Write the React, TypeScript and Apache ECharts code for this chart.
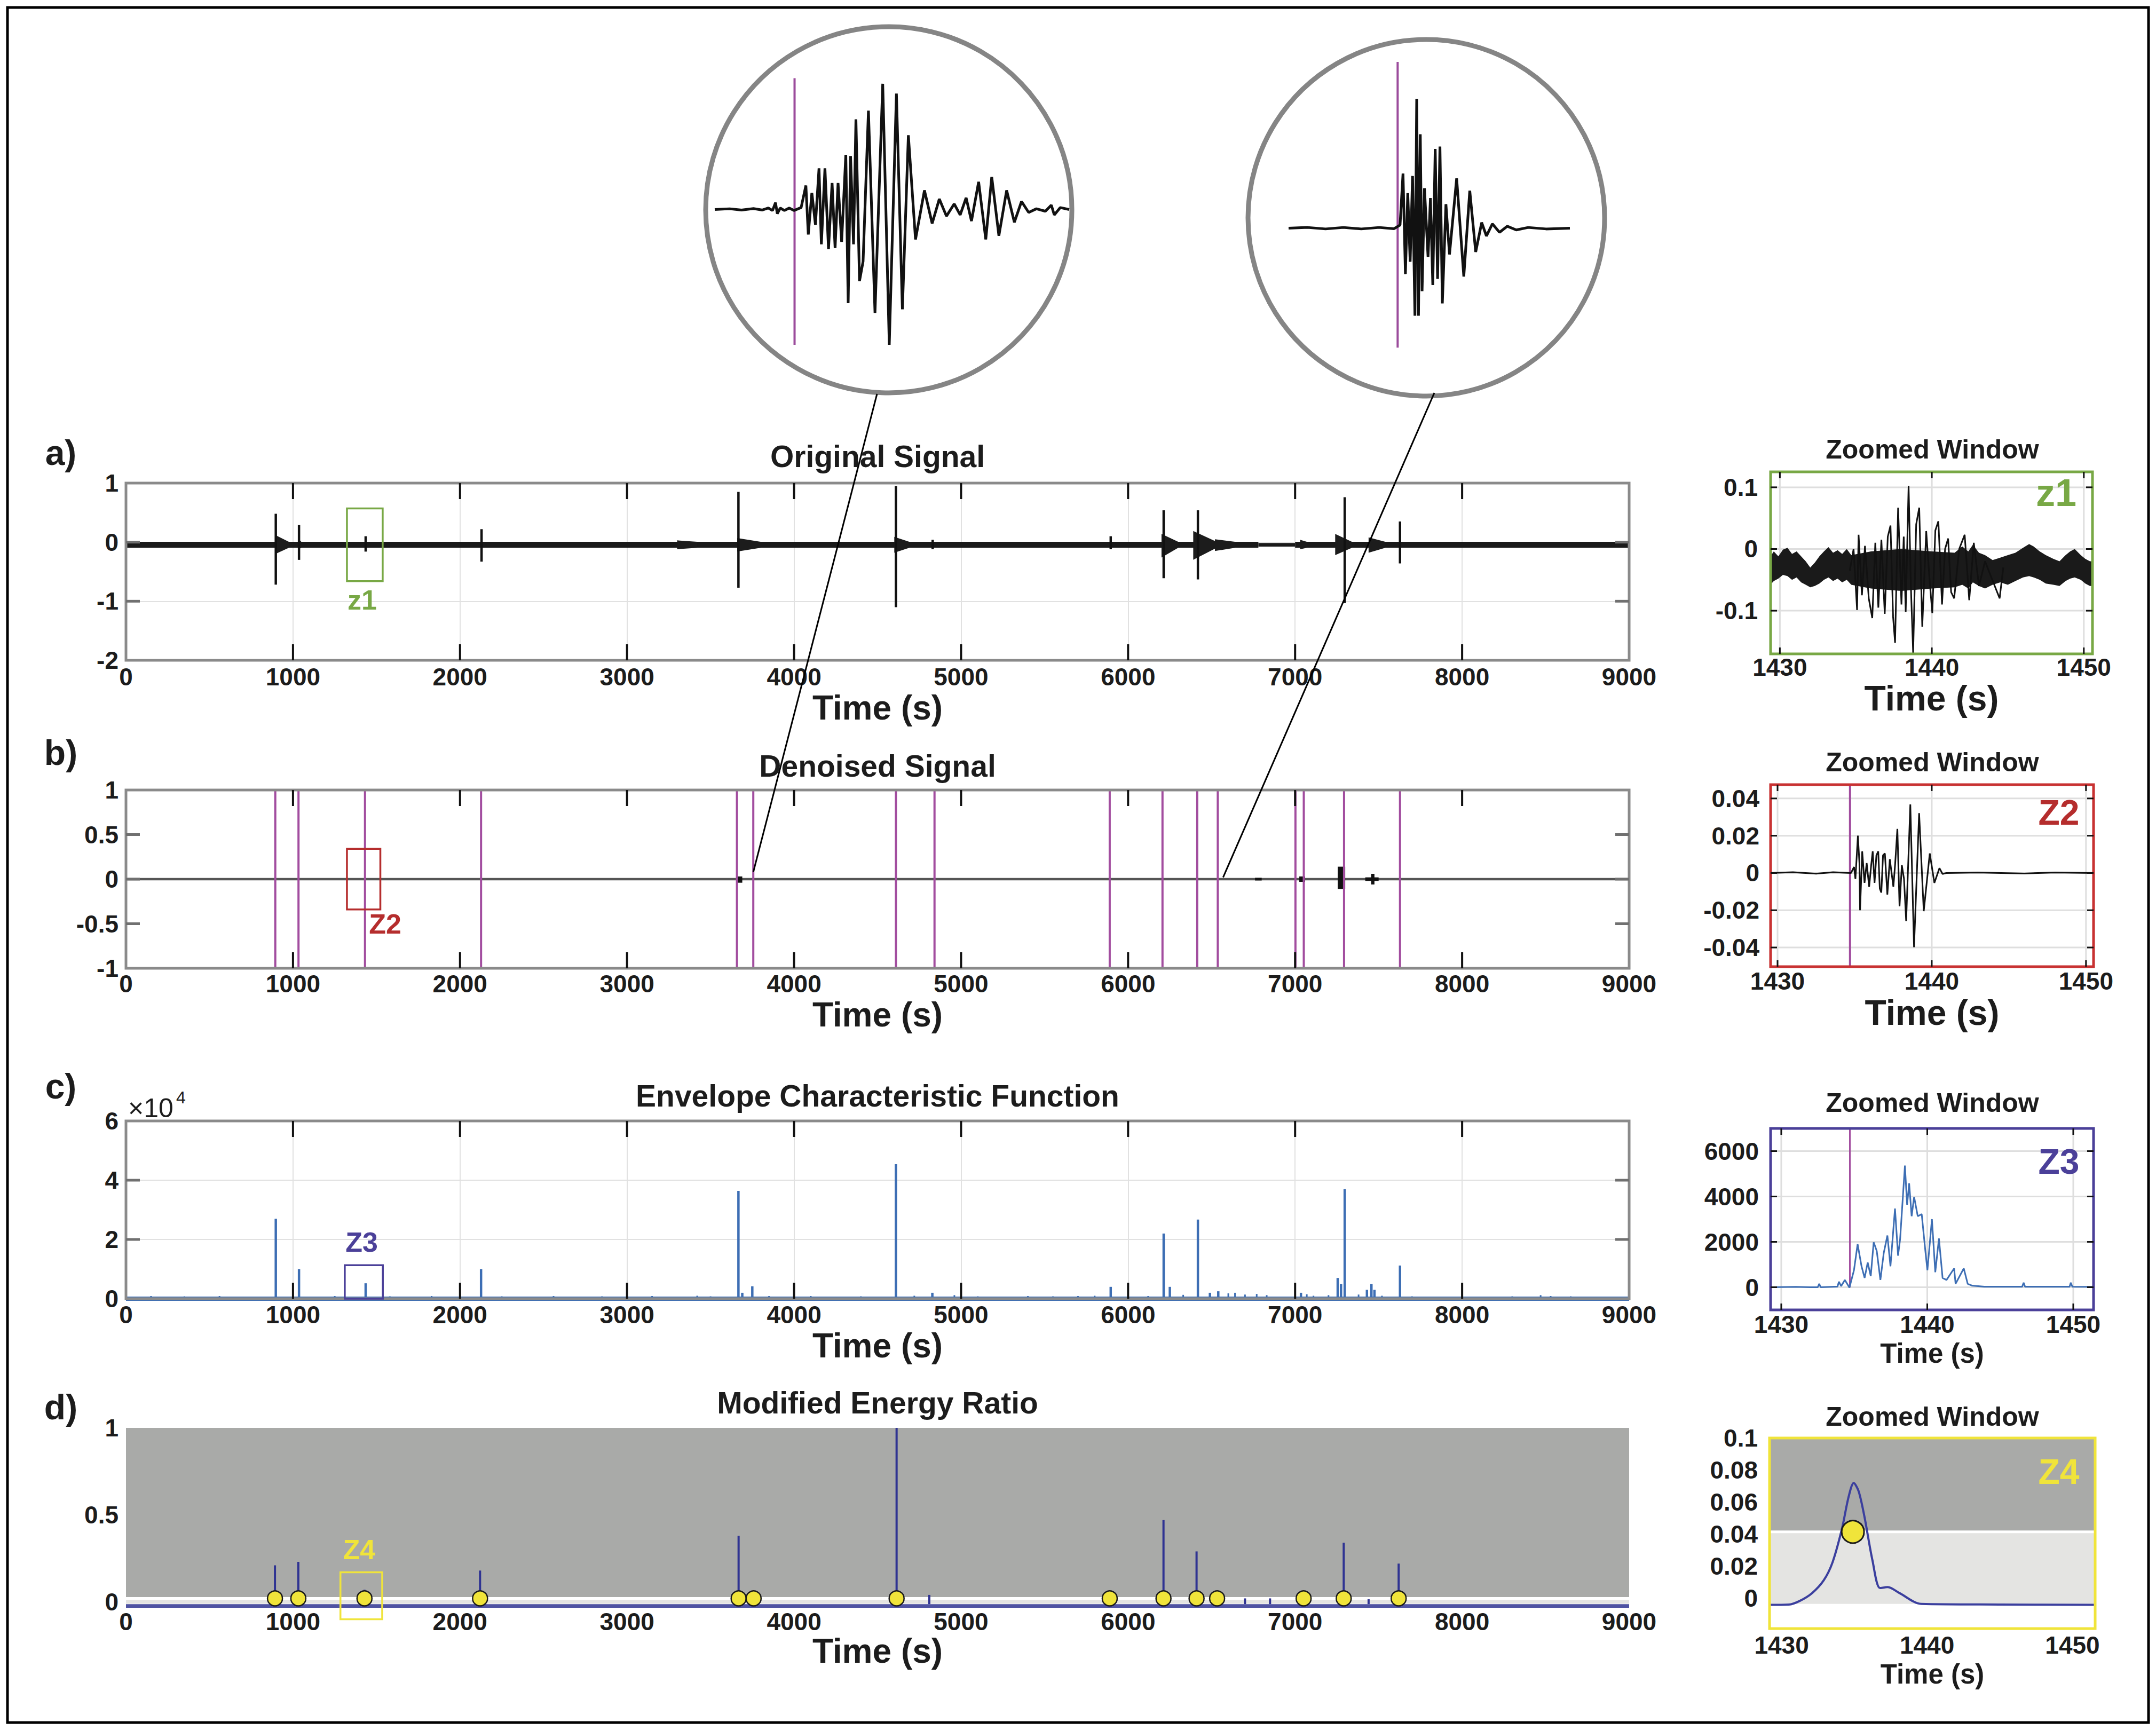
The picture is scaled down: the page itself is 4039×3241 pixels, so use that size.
import React, { useEffect, useRef } from "react";
import * as echarts from "echarts";

const FONT = '"Liberation Sans", Arial, Helvetica, sans-serif';
const INK = "#1c1c1c";

// ---------- shared time axis of the main panels ----------
const TIME_MIN = 0;
const TIME_MAX = 9000;
const TIME_STEP = 1000;
const innerTimeTicks = [1000, 2000, 3000, 4000, 5000, 6000, 7000, 8000];

// ---------- a) Original Signal ----------
const origYTicksInner = [-1, 0];
// noise band segments [t0, t1, low, high]
const origBand = [
  [0, 6780, -0.095, 0.005],
  [6780, 7000, -0.075, -0.015],
  [7000, 9000, -0.095, 0.005],
];
// event codas, decaying from t0 to t1: [t0, t1, low, high]
const origCoda = [
  [895, 975, -0.2, 0.12],
  [1030, 1050, -0.12, 0.06],
  [3300, 3420, -0.12, 0.03],
  [3660, 3800, -0.16, 0.07],
  [4600, 4690, -0.18, 0.09],
  [6200, 6300, -0.26, 0.14],
  [6390, 6530, -0.3, 0.19],
  [6520, 6640, -0.15, 0.05],
  [7030, 7070, -0.12, 0.04],
  [7240, 7340, -0.22, 0.14],
  [7440, 7540, -0.18, 0.08],
];
// spikes [t, low, high]
const origSpikes = [
  [897, -0.72, 0.48],
  [1036, -0.3, 0.29],
  [1435, -0.16, 0.1],
  [2129, -0.33, 0.22],
  [3667, -0.77, 0.85],
  [4610, -1.1, 0.95],
  [4830, -0.12, 0.04],
  [5896, -0.12, 0.1],
  [6213, -0.61, 0.54],
  [6418, -0.63, 0.54],
  [7297, -1.03, 0.76],
  [7628, -0.36, 0.35],
];
const z1Box = [1323, 1537, -0.66, 0.57];

// ---------- b) Denoised Signal ----------
const denYTicksInner = [-0.5, 0, 0.5];
const denBand = [[0, 9000, -0.013, 0.013]];
const denBlobs = [
  [3655, 3690, -0.04, 0.03],
  [6760, 6800, -0.015, 0.015],
  [7025, 7060, -0.03, 0.03],
  [7255, 7300, -0.11, 0.14],
  [7420, 7500, -0.02, 0.02],
  [7455, 7475, -0.06, 0.06],
];
const pickTimes = [894, 1033, 1431, 2126, 3658, 3756, 4610, 4841, 5890, 6206, 6414, 6537, 7002, 7052, 7293, 7628];
const z2Box = [1323, 1523, -0.34, 0.34];

// ---------- c) Envelope Characteristic Function ----------
const envYTicksInner = [20000, 40000];
const envBand = [[0, 9000, -700, 700]];
const envSpikes = [
  [897, 27000], [1036, 10000], [1435, 5200], [2126, 10000],
  [3667, 36400], [3690, 2000], [3750, 4200],
  [4610, 45400], [4828, 2000], [5896, 4000],
  [6213, 22000], [6250, 4000], [6418, 26700], [6490, 2000], [6540, 2500],
  [7035, 2000], [7255, 7000], [7275, 5000], [7297, 37000],
  [7430, 3000], [7457, 5000], [7475, 3000], [7628, 11200],
];
const envNoise = [
  [60, 700], [150, 900], [230, 600], [350, 800], [430, 700], [560, 900], [700, 700], [800, 600],
  [1150, 700], [1250, 900], [1350, 600], [1580, 800], [1700, 700], [1830, 900], [1950, 600],
  [2250, 800], [2400, 700], [2560, 900], [2700, 600], [2850, 800], [2980, 700],
  [3150, 900], [3300, 700], [3420, 1000], [3500, 800], [3850, 900], [3980, 700],
  [4100, 900], [4250, 700], [4400, 800], [4520, 700], [4720, 1000], [4960, 1200],
  [5100, 800], [5250, 700], [5400, 900], [5550, 800], [5700, 900], [5800, 1000],
  [6120, 900], [6330, 1300], [6600, 1800], [6640, 2000], [6700, 1400], [6770, 1600], [6830, 1200],
  [7070, 1500], [7110, 1000], [7200, 1200], [7380, 1400], [7520, 1000],
  [7700, 800], [7850, 700], [8000, 600], [8150, 700], [8300, 800], [8470, 1200], [8530, 900],
  [8650, 800], [8800, 700], [8950, 600],
];
const z3Box = [1310, 1538, 0, 11300];

// ---------- d) Modified Energy Ratio ----------
const merThreshold = 0.02;
const merLightLow = -0.011;
const merBaseline = [[0, 9000, -0.034, -0.013]];
const merSpikes = [
  [892, 0.21], [1032, 0.23], [1428, 0.07], [2120, 0.18], [3668, 0.38], [3758, 0.05],
  [4614, 1.0], [4810, 0.04], [5890, 0.04], [6212, 0.47], [6410, 0.29], [6533, 0.05],
  [6700, 0.02], [6850, 0.02], [7051, 0.05], [7291, 0.34], [7440, 0.015], [7620, 0.22],
];
const merPicks = [892, 1032, 1428, 2120, 3668, 3758, 4614, 5890, 6212, 6410, 6533, 7051, 7291, 7620];
const z4Box = [1284, 1534, -0.1, 0.17];

// ---------- zoomed windows ----------
const zoomXTicks = [1430, 1440, 1450];
const z1YTicks = [-0.1, 0, 0.1];
const z2YTicks = [-0.04, -0.02, 0, 0.02, 0.04];
const z3YTicks = [0, 2000, 4000, 6000];
const z4YTicks = [0, 0.02, 0.04, 0.06, 0.08, 0.1];
const zoomPick = 1434.7;

const z1Upper = [
  [1429.3, -0.015], [1429.6, -0.004], [1429.9, -0.012], [1430.2, -0.001], [1430.5, 0.002], [1430.8, -0.008],
  [1431.1, -0.004], [1431.4, -0.012], [1431.7, -0.02], [1432.0, -0.03], [1432.3, -0.022], [1432.6, -0.012],
  [1432.9, -0.004], [1433.2, 0.003], [1433.5, -0.006], [1433.8, -0.002], [1434.1, -0.008], [1434.4, 0.0],
  [1434.7, -0.01], [1436.0, -0.004], [1438.0, 0.0], [1440.0, -0.004], [1441.5, -0.006], [1442.0, 0.004],
  [1442.4, -0.004], [1442.7, 0.007], [1443.1, -0.006], [1443.5, -0.01], [1444.0, -0.018], [1444.5, -0.014],
  [1445.0, -0.01], [1445.5, -0.006], [1446.0, 0.002], [1446.4, 0.008], [1446.7, 0.004], [1447.1, -0.004],
  [1447.5, -0.01], [1448.0, -0.016], [1448.4, -0.02], [1448.8, -0.01], [1449.1, -0.004], [1449.4, 0.0],
  [1449.8, -0.01], [1450.1, -0.016], [1450.4, -0.02], [1450.6, -0.02],
];
const z1Lower = [
  [1429.3, -0.06], [1429.6, -0.052], [1429.9, -0.048], [1430.2, -0.042], [1430.5, -0.044], [1430.8, -0.05],
  [1431.1, -0.046], [1431.4, -0.054], [1431.7, -0.058], [1432.0, -0.062], [1432.3, -0.06], [1432.6, -0.056],
  [1432.9, -0.05], [1433.2, -0.046], [1433.5, -0.052], [1433.8, -0.048], [1434.1, -0.054], [1434.4, -0.05],
  [1434.7, -0.058], [1436.0, -0.064], [1438.0, -0.068], [1440.0, -0.064], [1441.5, -0.062], [1442.0, -0.058],
  [1442.4, -0.064], [1442.7, -0.054], [1443.1, -0.06], [1443.5, -0.064], [1444.0, -0.058], [1444.5, -0.054],
  [1445.0, -0.058], [1445.5, -0.052], [1446.0, -0.046], [1446.4, -0.044], [1446.7, -0.046], [1447.1, -0.05],
  [1447.5, -0.056], [1448.0, -0.058], [1448.4, -0.06], [1448.8, -0.052], [1449.1, -0.048], [1449.4, -0.046],
  [1449.8, -0.05], [1450.1, -0.056], [1450.4, -0.06], [1450.6, -0.06],
];
const z1Wave = [
  [1434.6, -0.035], [1434.85, 0.0], [1435.08, -0.099], [1435.18, 0.023], [1435.4, -0.075], [1435.6, 0.005],
  [1435.85, -0.08], [1436.08, -0.112], [1436.28, 0.01], [1436.48, -0.095], [1436.68, 0.015], [1436.9, -0.105],
  [1437.1, 0.02], [1437.28, 0.038], [1437.45, -0.11], [1437.58, -0.152], [1437.78, 0.067], [1438.0, -0.09],
  [1438.15, 0.02], [1438.28, -0.102], [1438.47, 0.1025], [1438.62, -0.06], [1438.77, -0.169], [1438.97, 0.04],
  [1439.17, 0.067], [1439.37, -0.126], [1439.63, 0.029], [1439.85, -0.05], [1440.03, -0.104], [1440.23, 0.03],
  [1440.43, 0.045], [1440.67, -0.09], [1440.87, 0.0], [1441.07, 0.017], [1441.27, -0.07], [1441.47, -0.08],
  [1441.8, 0.0], [1442.16, 0.023], [1442.46, -0.083], [1442.76, 0.01], [1443.1, -0.06], [1443.5, -0.02],
  [1444.46, -0.08], [1444.7, -0.03],
];
const z2Wave = [
  [1429.5, 0], [1431.0, 0.0004], [1432.5, -0.0004], [1433.6, 0.0004], [1434.76, 0], [1434.96, 0.0032],
  [1435.05, -0.0032], [1435.21, 0.02], [1435.31, 0.0053], [1435.35, -0.02], [1435.49, 0.0116], [1435.64, -0.0053],
  [1435.78, 0.0053], [1435.94, -0.0074], [1436.06, 0.0032], [1436.17, 0.0116], [1436.29, -0.0053], [1436.41, 0.0095],
  [1436.53, 0.0116], [1436.63, -0.0084], [1436.73, -0.0105], [1436.84, 0.0095], [1436.96, 0.0105], [1437.12, -0.0116],
  [1437.28, 0.0074], [1437.51, -0.0074], [1437.63, 0.0053], [1437.77, 0.0237], [1437.91, -0.0179], [1438.06, 0.0042],
  [1438.2, -0.0032], [1438.34, -0.0258], [1438.61, 0.0368], [1438.85, -0.0398], [1439.18, 0.0321], [1439.48, -0.0205],
  [1439.87, 0.0105], [1440.17, -0.0053], [1440.5, 0.0026], [1440.7, -0.0005], [1440.95, 0], [1443.0, 0.0003],
  [1446.0, -0.0003], [1448.0, 0.0003], [1450.5, 0],
];
const z3Env = [
  [1429.27, 0], [1431.0, 20], [1432.0, 0], [1432.5, 0], [1432.6, 150], [1432.7, 0], [1433.85, 30], [1433.95, 240],
  [1434.1, 50], [1434.36, 320], [1434.67, -20], [1434.98, 750], [1435.23, 1900], [1435.5, 920], [1435.71, 410],
  [1435.92, 1090], [1436.13, 490], [1436.33, 1980], [1436.54, 1600], [1436.79, 320], [1437.02, 1510], [1437.27, 2280],
  [1437.48, 920], [1437.79, 3470], [1438.0, 1390], [1438.14, 2110], [1438.47, 5360], [1438.62, 3640], [1438.76, 4580],
  [1438.93, 3130], [1439.1, 3980], [1439.35, 3130], [1439.62, 3220], [1439.87, 1600], [1440.01, 750], [1440.32, 3000],
  [1440.55, 660], [1440.8, 2150], [1441.05, 410], [1441.32, 320], [1441.84, 830], [1441.94, 150], [1442.5, 830],
  [1442.77, 150], [1443.08, 70], [1443.91, 25], [1446.5, 25], [1446.6, 200], [1446.7, 25], [1449.75, 25],
  [1449.83, 200], [1449.94, 25], [1451.39, 20],
];
const z4Threshold = 0.0414;
const z4LightLow = -0.0036;
const z4Curve = [
  [1429.17, -0.0042], [1430.5, -0.004], [1431.25, -0.0017], [1432.1, 0.0032], [1432.9, 0.0112], [1433.5, 0.0223],
  [1434.15, 0.0433], [1434.6, 0.063], [1434.96, 0.0719], [1435.3, 0.0667], [1435.7, 0.0507], [1436.25, 0.0235],
  [1436.77, 0.0063], [1437.3, 0.0069], [1438.1, 0.0032], [1439.6, -0.0036], [1445.0, -0.004], [1451.56, -0.0042],
];
const z4Pick = [1434.9, 0.0414];

// ---------- circular insets (relative seconds, relative amplitude) ----------
const insetLeftWave = [
  [0, 0], [4.17, 0.03], [7.5, -0.02], [10.83, 0.04], [13.33, -0.02], [15, 0.06], [16.17, -0.04], [17, 0.28],
  [17.5, -0.17], [18.33, 0.06], [19.5, -0.04], [20.83, 0.06], [22.17, -0.04], [23.5, 0.04], [24.17, 0.08],
  [25.5, 0.98], [26.17, -1.02], [27.17, 0.68], [28.17, -0.62], [29.17, 1.68], [29.83, -1.42], [30.83, 1.68],
  [31.83, -1.62], [32.83, 1.08], [33.67, -1.57], [34.5, 1.08], [35.5, -1.32], [36.67, 2.23], [37.33, -3.82],
  [38, 2.18], [38.83, -1.42], [39.5, 3.68], [40.5, -2.92], [41.5, -2.12], [43, 4.03], [44.83, -4.22], [47, 5.13],
  [48.83, -5.52], [50.83, 4.73], [52.5, -4.07], [54.17, 3.03], [56.17, -1.22], [58.67, 0.78], [60.83, -0.57],
  [62.83, 0.43], [64.83, -0.27], [67, 0.23], [68.67, -0.22], [70.33, 0.48], [71.83, -0.47], [73.83, 1.13],
  [75.83, -1.22], [77.5, 1.33], [79.5, -1.07], [81.67, 0.78], [83.83, -0.52], [85.83, 0.33], [87.83, -0.12],
  [90, 0.03], [92.5, -0.07], [94.17, 0.18], [95, -0.22], [96.67, 0.08], [99.17, 0],
];
const insetLeftPick = [22.33, -5.52, 5.36];
const insetRightWave = [
  [0, 0], [5.33, 0.03], [10.33, -0.03], [15.33, 0.03], [20.33, -0.03], [25.33, 0.03], [29.5, -0.02], [31.17, 0.13],
  [32, 2.23], [32.67, -1.87], [33.33, 1.43], [34, -1.37], [34.67, 2.13], [35.33, -3.57], [35.83, 5.28], [36.33, -3.57],
  [36.83, 3.83], [37.33, -2.57], [38, 1.63], [39, -1.17], [39.67, 1.23], [40.33, -2.32], [41, 3.23], [41.67, -2.07],
  [42.33, 3.33], [43, -3.07], [44, 0.98], [45, -1.07], [47, 2.03], [49, -1.97], [50.67, 1.53], [52.33, -0.97],
  [54, 0.23], [55.33, -0.32], [57, 0.18], [59, -0.17], [61.17, 0.08], [63.67, -0.07], [67, 0.03], [72, -0.03],
  [78.67, 0],
];
const insetRightPick = [30.5, -4.87, 6.78];
// points of panel b that the connector lines point at
const connectorTargets = [[3756, 0.08], [6569, 0.02]];

// ---------- layout (pixels) ----------
const connectorStarts = [[1643, 738], [2687, 736]];
const GRIDS = [
  { left: 236, top: 905, width: 2816, height: 332 },
  { left: 236, top: 1480, width: 2816, height: 334 },
  { left: 236, top: 2100, width: 2816, height: 333 },
  { left: 236, top: 2675, width: 2816, height: 339 },
  { left: 3317, top: 884, width: 603, height: 341 },
  { left: 3317, top: 1470, width: 605, height: 341 },
  { left: 3317, top: 2114, width: 605, height: 340 },
  { left: 3315, top: 2694, width: 610, height: 357 },
  { left: 1339, top: 117, width: 664, height: 551 },
  { left: 2414, top: 106, width: 527, height: 643 },
];
const MAIN_TICK_PX = 30;
const MAIN_YTICK_PX = 26;
const ZOOM_TICK_PX = 12;

const C_PURPLE = "#a24d9f";
const C_BLUE = "#3d6eb4";
const C_NAVY = "#2f3392";
const C_GREEN = "#78a845";
const C_RED = "#b52d2d";
const C_VIOLET = "#4b4099";
const C_YELLOW = "#f0e43a";
const C_DARKGRAY = "#a9aaa8";
const C_LIGHTGRAY = "#e4e4e2";

const plain = (v: number) => String(v);
const tickFont = { fontFamily: FONT, fontWeight: "bold", fontSize: 46, color: INK };
const nameFont = (s: number) => ({ fontFamily: FONT, fontWeight: "bold", fontSize: s, color: INK });

function rectSeries(ax: number, data: number[][], color: string, extra: any = {}) {
  return {
    type: "custom", xAxisIndex: ax, yAxisIndex: ax, silent: true, data,
    encode: { x: [0, 1], y: [2, 3] },
    renderItem: (_p: any, api: any) => {
      const a = api.coord([api.value(0), api.value(3)]);
      const b = api.coord([api.value(1), api.value(2)]);
      return {
        type: "rect",
        shape: { x: a[0], y: a[1], width: Math.max(b[0] - a[0], 2), height: Math.max(b[1] - a[1], 1) },
        style: { fill: color },
      };
    },
    ...extra,
  };
}

// decaying coda: full amplitude at t0, shrinking to the noise band at t1
function codaSeries(ax: number, data: number[][], bandLo: number, bandHi: number, color: string) {
  return {
    type: "custom", xAxisIndex: ax, yAxisIndex: ax, silent: true, data,
    encode: { x: [0, 1], y: [2, 3] },
    renderItem: (_p: any, api: any) => {
      const t0 = api.value(0), t1 = api.value(1), lo = api.value(2), hi = api.value(3);
      const pts = [api.coord([t0, hi]), api.coord([t1, bandHi]), api.coord([t1, bandLo]), api.coord([t0, lo])];
      return { type: "polygon", shape: { points: pts }, style: { fill: color } };
    },
  };
}

function spikeSeries(ax: number, data: number[][], color: string, width: number, extra: any = {}) {
  return {
    type: "custom", xAxisIndex: ax, yAxisIndex: ax, silent: true, data,
    encode: { x: 0, y: [1, 2] },
    renderItem: (_p: any, api: any) => {
      const a = api.coord([api.value(0), api.value(1)]);
      const b = api.coord([api.value(0), api.value(2)]);
      return { type: "line", shape: { x1: a[0], y1: a[1], x2: b[0], y2: b[1] }, style: { stroke: color, lineWidth: width } };
    },
    ...extra,
  };
}

// horizontal segments: data [x0, x1, y]
function hSegSeries(ax: number, data: number[][], color: string, width: number, extra: any = {}) {
  return {
    type: "custom", xAxisIndex: ax, yAxisIndex: ax, silent: true, data,
    encode: { x: [0, 1], y: 2 },
    renderItem: (_p: any, api: any) => {
      const a = api.coord([api.value(0), api.value(2)]);
      const b = api.coord([api.value(1), api.value(2)]);
      return { type: "line", shape: { x1: a[0], y1: a[1], x2: b[0], y2: b[1] }, style: { stroke: color, lineWidth: width } };
    },
    ...extra,
  };
}

// inward tick marks on the top/bottom edges (vertical) at x values; length given in pixels, converted via grid size
function xTickSeries(ax: number, values: number[], yMin: number, yMax: number, px: number, color: string, width: number) {
  const d = (px / GRIDS[ax].height) * (yMax - yMin);
  const data: number[][] = [];
  values.forEach((v) => {
    data.push([v, yMin, yMin + d]);
    data.push([v, yMax - d, yMax]);
  });
  return spikeSeries(ax, data, color, width, { z: 7 });
}
// inward tick marks on the left/right edges (horizontal) at y values
function yTickSeries(ax: number, values: number[], xMin: number, xMax: number, px: number, color: string, width: number) {
  const d = (px / GRIDS[ax].width) * (xMax - xMin);
  const data: number[][] = [];
  values.forEach((v) => {
    data.push([xMin, xMin + d, v]);
    data.push([xMax - d, xMax, v]);
  });
  return hSegSeries(ax, data, color, width, { z: 7 });
}

function boxSeries(ax: number, box: number[], color: string, text: string, place: string) {
  return {
    type: "custom", xAxisIndex: ax, yAxisIndex: ax, silent: true, clip: false, z: 8,
    data: [box], encode: { x: [0, 1], y: [2, 3] },
    renderItem: (_p: any, api: any) => {
      const a = api.coord([api.value(0), api.value(3)]);
      const b = api.coord([api.value(1), api.value(2)]);
      let tx = (a[0] + b[0]) / 2 - 5;
      let ty = b[1] + 35;
      if (place === "belowRight") { tx = b[0] + 9; ty = b[1] + 27; }
      if (place === "above") { tx = (a[0] + b[0]) / 2 - 4; ty = a[1] - 43; }
      return {
        type: "group",
        children: [
          { type: "rect", shape: { x: a[0], y: a[1], width: b[0] - a[0], height: b[1] - a[1] }, style: { fill: "none", stroke: color, lineWidth: 3.5 } },
          {
            type: "text", x: tx, y: ty,
            style: { text, fill: color, fontSize: 52, fontWeight: "bold", fontFamily: FONT, textAlign: "center", textVerticalAlign: "middle", align: "center", verticalAlign: "middle" },
          },
        ],
      };
    },
  };
}

function polygonBandSeries(ax: number, upper: number[][], lower: number[][], color: string) {
  return {
    type: "custom", xAxisIndex: ax, yAxisIndex: ax, silent: true, clip: true,
    data: [upper[0]], encode: { x: 0, y: 1 },
    renderItem: (_p: any, api: any) => {
      const pts = upper.map((p) => api.coord(p)).concat(lower.slice().reverse().map((p) => api.coord(p)));
      return { type: "polygon", shape: { points: pts }, style: { fill: color } };
    },
  };
}

function waveSeries(ax: number, data: number[][], color: string, width: number, extra: any = {}) {
  return {
    type: "line", xAxisIndex: ax, yAxisIndex: ax, data, symbol: "none", showSymbol: false, silent: true,
    lineStyle: { color, width }, ...extra,
  };
}

function mainX(grid: number, margin: number, nameGap: number, split: boolean) {
  return {
    type: "value", gridIndex: grid, position: "bottom", min: TIME_MIN, max: TIME_MAX, interval: TIME_STEP,
    axisLine: { show: false, onZero: false },
    axisTick: { show: false },
    axisLabel: { ...tickFont, margin, formatter: plain },
    splitLine: { show: split, lineStyle: { color: "#e1e1e1", width: 2 } },
    name: "Time (s)", nameLocation: "middle", nameGap, nameTextStyle: nameFont(64), nameMoveOverlap: false,
  };
}
function mainY(grid: number, min: number, max: number, interval: number, split: boolean, formatter?: any) {
  return {
    type: "value", gridIndex: grid, min, max, interval,
    axisLine: { show: false, onZero: false },
    axisTick: { show: false },
    axisLabel: { ...tickFont, margin: 14, formatter: formatter || plain },
    splitLine: { show: split, lineStyle: { color: "#e1e1e1", width: 2 } },
  };
}
function zoomX(grid: number, min: number, max: number, margin: number, nameGap: number, nameSize: number) {
  return {
    type: "value", gridIndex: grid, min, max,
    axisLine: { show: false, onZero: false },
    axisTick: { show: false },
    axisLabel: { ...tickFont, margin, customValues: zoomXTicks, formatter: plain },
    splitLine: { show: false },
    name: "Time (s)", nameLocation: "middle", nameGap, nameTextStyle: nameFont(nameSize), nameMoveOverlap: false,
  };
}
function zoomY(grid: number, min: number, max: number, ticks: number[], margin: number) {
  return {
    type: "value", gridIndex: grid, min, max,
    axisLine: { show: false, onZero: false }, axisTick: { show: false }, splitLine: { show: false },
    axisLabel: { ...tickFont, margin, customValues: ticks, formatter: (v: number) => String(+v.toFixed(4)) },
  };
}
function hiddenAxis(grid: number, min: number, max: number) {
  return { type: "value", gridIndex: grid, min, max, show: false, axisLine: { onZero: false } };
}

function text(t: string, x: number, y: number, size: number, color = INK, weight = "bold", align = "center") {
  return {
    type: "text", x, y, silent: true, z: 50,
    style: { text: t, fill: color, fontSize: size, fontWeight: weight, fontFamily: FONT, textAlign: align, textVerticalAlign: "middle", align, verticalAlign: "middle" },
  };
}

function buildOption() {
  const z1X = [1429.39, 1450.57], z1Y = [-0.17, 0.125];
  const z2X = [1429.55, 1450.49], z2Y = [-0.0503, 0.0474];
  const z3X = [1429.27, 1451.39], z3Y = [-1000, 7000];
  const z4X = [1429.17, 1451.56], z4Y = [-0.019, 0.1];

  const grids = GRIDS.map((g, i) => {
    const base: any = { ...g, outerBoundsMode: "none", containLabel: false, show: false, z: 6 };
    if (i <= 2) Object.assign(base, { show: true, borderColor: "#8a8a8a", borderWidth: 5 });
    if (i === 4) Object.assign(base, { show: true, borderColor: C_GREEN, borderWidth: 5 });
    if (i === 5) Object.assign(base, { show: true, borderColor: "#c83232", borderWidth: 5 });
    if (i === 6) Object.assign(base, { show: true, borderColor: C_VIOLET, borderWidth: 5 });
    if (i === 7) Object.assign(base, { show: true, borderColor: C_YELLOW, borderWidth: 5 });
    return base;
  });

  const xAxis = [
    mainX(0, 8, 57, true),
    mainX(1, 6, 55, false),
    mainX(2, 7, 56, true),
    mainX(3, 1, 47, false),
    zoomX(4, z1X[0], z1X[1], 2, 50, 66),
    zoomX(5, z2X[0], z2X[1], 4, 53, 66),
    zoomX(6, z3X[0], z3X[1], 4, 56, 51),
    zoomX(7, z4X[0], z4X[1], 8, 60, 51),
    hiddenAxis(8, 0, 99.17),
    hiddenAxis(9, 0, 78.67),
  ];
  const yAxis = [
    mainY(0, -2, 1, 1, true),
    mainY(1, -1, 1, 0.5, false),
    mainY(2, 0, 60000, 20000, true, (v: number) => String(v / 10000)),
    {
      type: "value", gridIndex: 3, min: -0.04, max: 1,
      axisLine: { show: false, onZero: false }, axisTick: { show: false }, splitLine: { show: false },
      axisLabel: { ...tickFont, margin: 14, customValues: [0, 0.5, 1], formatter: plain },
    },
    zoomY(4, z1Y[0], z1Y[1], z1YTicks, 24),
    zoomY(5, z2Y[0], z2Y[1], z2YTicks, 21),
    zoomY(6, z3Y[0], z3Y[1], z3YTicks, 22),
    zoomY(7, z4Y[0], z4Y[1], z4YTicks, 22),
    hiddenAxis(8, -6, 6),
    hiddenAxis(9, -7, 7),
  ];

  const zoomGridColor = "#dedede";
  const TICK_INK = "#111111";
  const YTICK = "#707070";
  const series: any[] = [
    // a) original
    rectSeries(0, origBand, "#1a1a1a"),
    codaSeries(0, origCoda, -0.095, 0.005, "#1c1c1c"),
    spikeSeries(0, origSpikes, "#111", 4.5),
    xTickSeries(0, innerTimeTicks, -2, 1, MAIN_TICK_PX, TICK_INK, 4),
    yTickSeries(0, origYTicksInner, TIME_MIN, TIME_MAX, MAIN_YTICK_PX, YTICK, 5),
    boxSeries(0, z1Box, C_GREEN, "z1", "below"),
    // b) denoised
    rectSeries(1, denBand, "#555"),
    rectSeries(1, denBlobs, "#111"),
    xTickSeries(1, innerTimeTicks, -1, 1, MAIN_TICK_PX, TICK_INK, 4),
    yTickSeries(1, denYTicksInner, TIME_MIN, TIME_MAX, MAIN_YTICK_PX, YTICK, 5),
    spikeSeries(1, pickTimes.map((t) => [t, -1, 1]), C_PURPLE, 4),
    boxSeries(1, z2Box, C_RED, "Z2", "belowRight"),
    // c) envelope
    rectSeries(2, envBand, C_BLUE),
    spikeSeries(2, envNoise.map((d) => [d[0], 0, d[1]]), C_BLUE, 3),
    spikeSeries(2, envSpikes.map((d) => [d[0], 0, d[1]]), C_BLUE, 4.5),
    xTickSeries(2, innerTimeTicks, 0, 60000, MAIN_TICK_PX, TICK_INK, 4),
    yTickSeries(2, envYTicksInner, TIME_MIN, TIME_MAX, MAIN_YTICK_PX, YTICK, 5),
    boxSeries(2, z3Box, C_VIOLET, "Z3", "above"),
    // d) MER
    rectSeries(3, [[TIME_MIN, TIME_MAX, merLightLow, merThreshold]], C_LIGHTGRAY),
    rectSeries(3, [[TIME_MIN, TIME_MAX, merThreshold, 1]], C_DARKGRAY),
    hSegSeries(3, [[TIME_MIN, TIME_MAX, merThreshold]], "#ffffff", 5),
    rectSeries(3, merBaseline, "#4f53a2"),
    spikeSeries(3, merSpikes.map((d) => [d[0], -0.013, d[1]]), C_NAVY, 4),
    {
      type: "scatter", xAxisIndex: 3, yAxisIndex: 3, silent: true, z: 10,
      data: merPicks.map((t) => [t, merThreshold]), symbol: "circle", symbolSize: 28,
      itemStyle: { color: C_YELLOW, borderColor: "#1a1a1a", borderWidth: 2.5, opacity: 1 },
    },
    boxSeries(3, z4Box, C_YELLOW, "Z4", "above"),
    // z1
    spikeSeries(4, zoomXTicks.map((t) => [t, z1Y[0], z1Y[1]]), zoomGridColor, 3),
    hSegSeries(4, z1YTicks.map((v) => [z1X[0], z1X[1], v]), zoomGridColor, 3),
    xTickSeries(4, zoomXTicks, z1Y[0], z1Y[1], ZOOM_TICK_PX, TICK_INK, 3),
    yTickSeries(4, z1YTicks, z1X[0], z1X[1], ZOOM_TICK_PX, TICK_INK, 3),
    polygonBandSeries(4, z1Upper, z1Lower, "#1a1a1a"),
    waveSeries(4, z1Wave, "#111", 3),
    // z2
    spikeSeries(5, zoomXTicks.map((t) => [t, z2Y[0], z2Y[1]]), zoomGridColor, 3),
    hSegSeries(5, z2YTicks.map((v) => [z2X[0], z2X[1], v]), zoomGridColor, 3),
    xTickSeries(5, zoomXTicks, z2Y[0], z2Y[1], ZOOM_TICK_PX, TICK_INK, 3),
    yTickSeries(5, z2YTicks, z2X[0], z2X[1], ZOOM_TICK_PX, TICK_INK, 3),
    spikeSeries(5, [[zoomPick, z2Y[0], z2Y[1]]], C_PURPLE, 4),
    waveSeries(5, z2Wave, "#111", 3),
    // z3
    spikeSeries(6, zoomXTicks.map((t) => [t, z3Y[0], z3Y[1]]), zoomGridColor, 3),
    hSegSeries(6, z3YTicks.map((v) => [z3X[0], z3X[1], v]), zoomGridColor, 3),
    xTickSeries(6, zoomXTicks, z3Y[0], z3Y[1], ZOOM_TICK_PX, TICK_INK, 3),
    yTickSeries(6, z3YTicks, z3X[0], z3X[1], ZOOM_TICK_PX, TICK_INK, 3),
    spikeSeries(6, [[zoomPick, 0, z3Y[1]]], C_PURPLE, 3),
    waveSeries(6, z3Env, C_BLUE, 3),
    // z4
    rectSeries(7, [[z4X[0], z4X[1], z4LightLow, z4Threshold]], C_LIGHTGRAY),
    rectSeries(7, [[z4X[0], z4X[1], z4Threshold, z4Y[1]]], C_DARKGRAY),
    hSegSeries(7, [[z4X[0], z4X[1], z4Threshold]], "#ffffff", 5),
    waveSeries(7, z4Curve, "#3b3f9e", 4, { smooth: 0.3 }),
    {
      type: "scatter", xAxisIndex: 7, yAxisIndex: 7, silent: true, z: 10,
      data: [z4Pick], symbol: "circle", symbolSize: 42,
      itemStyle: { color: C_YELLOW, borderColor: "#1a1a1a", borderWidth: 3, opacity: 1 },
    },
    // insets
    spikeSeries(8, [insetLeftPick], "#9b4c9c", 4),
    waveSeries(8, insetLeftWave, "#111", 5),
    spikeSeries(9, [insetRightPick], "#9b4c9c", 4),
    waveSeries(9, insetRightWave, "#111", 5),
    // connector lines from insets to panel b
    {
      type: "custom", xAxisIndex: 1, yAxisIndex: 1, silent: true, clip: false, z: 20,
      data: connectorTargets, encode: { x: 0, y: 1 },
      renderItem: (p: any, api: any) => {
        const e = api.coord([api.value(0), api.value(1)]);
        const s = connectorStarts[p.dataIndex];
        return { type: "line", shape: { x1: s[0], y1: s[1], x2: e[0], y2: e[1] }, style: { stroke: "#000", lineWidth: 3 } };
      },
    },
  ];

  const graphicEls: any[] = [
    { type: "rect", silent: true, z: 0, shape: { x: 14, y: 14, width: 4011, height: 3213 }, style: { fill: "none", stroke: "#000", lineWidth: 5 } },
    { type: "circle", silent: true, z: 0, shape: { cx: 1665, cy: 393, r: 343 }, style: { fill: "none", stroke: "#858585", lineWidth: 9 } },
    { type: "circle", silent: true, z: 0, shape: { cx: 2672, cy: 408, r: 334 }, style: { fill: "none", stroke: "#858585", lineWidth: 9 } },
    text("Original Signal", 1644, 855, 57),
    text("Denoised Signal", 1644, 1435, 57),
    text("Envelope Characteristic Function", 1644, 2053, 57),
    text("Modified Energy Ratio", 1644, 2628, 57),
    text("Zoomed Window", 3620, 842, 50),
    text("Zoomed Window", 3620, 1428, 50),
    text("Zoomed Window", 3620, 2066, 50),
    text("Zoomed Window", 3620, 2654, 50),
    text("a)", 114, 848, 66),
    text("b)", 114, 1410, 66),
    text("c)", 114, 2035, 66),
    text("d)", 114, 2636, 66),
    text("×10", 240, 2076, 50, INK, "normal", "left"),
    text("4", 330, 2056, 32, INK, "normal", "left"),
    text("z1", 3852, 923, 72, C_GREEN),
    text("Z2", 3857, 1522, 66, C_RED),
    text("Z3", 3857, 2176, 66, C_VIOLET),
    text("Z4", 3857, 2757, 66, C_YELLOW),
  ];

  return {
    animation: false,
    backgroundColor: "#ffffff",
    textStyle: { fontFamily: FONT },
    grid: grids,
    xAxis,
    yAxis,
    series,
    graphic: { elements: graphicEls },
  };
}

export default function App() {
  const ref = useRef<HTMLDivElement>(null);
  useEffect(() => {
    document.body.style.margin = "0";
    document.body.style.overflow = "hidden";
    const chart = echarts.init(ref.current as HTMLDivElement, undefined, { renderer: "svg", width: 4039, height: 3241 });
    chart.setOption(buildOption() as any);
    return () => chart.dispose();
  }, []);
  return <div ref={ref} style={{ width: 4039, height: 3241, background: "#fff" }} />;
}
